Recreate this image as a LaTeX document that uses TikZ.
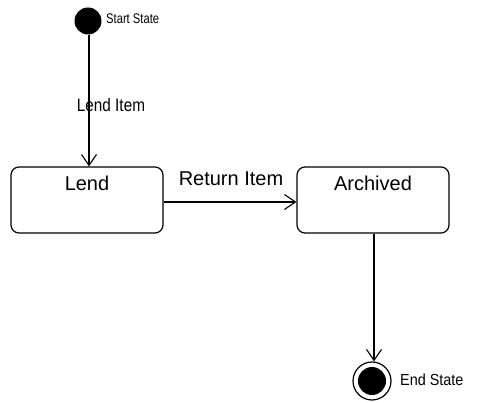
\documentclass[tikz,border=0pt]{standalone}
\usepackage{fontspec}
\setmainfont{Liberation Sans}
\usetikzlibrary{arrows.meta}
\begin{document}
\begin{tikzpicture}[x=1pt,y=-1pt,
  statebox/.style={draw, line width=1.2pt, rounded corners=8pt, minimum width=152pt, minimum height=66pt, inner sep=0pt},
  conn/.style={line width=1.1pt, -{Straight Barb[length=11pt,width=15pt,line width=1.1pt]}},
  lbl/.style={font=\fontsize{20}{24}\selectfont, inner sep=0pt},
  small/.style={inner sep=0pt}]
\useasboundingbox (0,0) rectangle (477,403);
\node[circle, fill=black, minimum size=27pt, inner sep=0pt] (start) at (88,21) {};
\node[small, anchor=west, font=\fontsize{14}{16}\selectfont] (startlbl) at (106,19) {\scalebox{0.8}[1]{Start State}};
\node[statebox] (lend) at (87,200) {};
\node[lbl] (lendtxt) at (87,183) {Lend};
\node[statebox] (arch) at (373,200) {};
\node[lbl] (archtxt) at (373,183) {Archived};
\node[circle, draw, line width=1.2pt, minimum size=38pt, inner sep=0pt] (endo) at (372,381) {};
\node[circle, fill=black, minimum size=28pt, inner sep=0pt] (endi) at (372,381) {};
\node[small, anchor=west, font=\fontsize{16}{18}\selectfont] (endlbl) at (400,380) {\scalebox{0.9}[1]{End State}};
\draw[conn] (start.south -| 89,0) -- (89,0 |- lend.north);
\node[lbl, font=\fontsize{18}{20}\selectfont] (lenditem) at (111,105) {\scalebox{0.85}[1]{Lend Item}};
\draw[conn] (lend.east |- 0,202) -- (arch.west |- 0,202);
\node[lbl] (retitem) at (231,179) {Return Item};
\draw[conn] (arch.south -| 374,0) -- (374,0 |- endo.north);
\end{tikzpicture}
\end{document}
